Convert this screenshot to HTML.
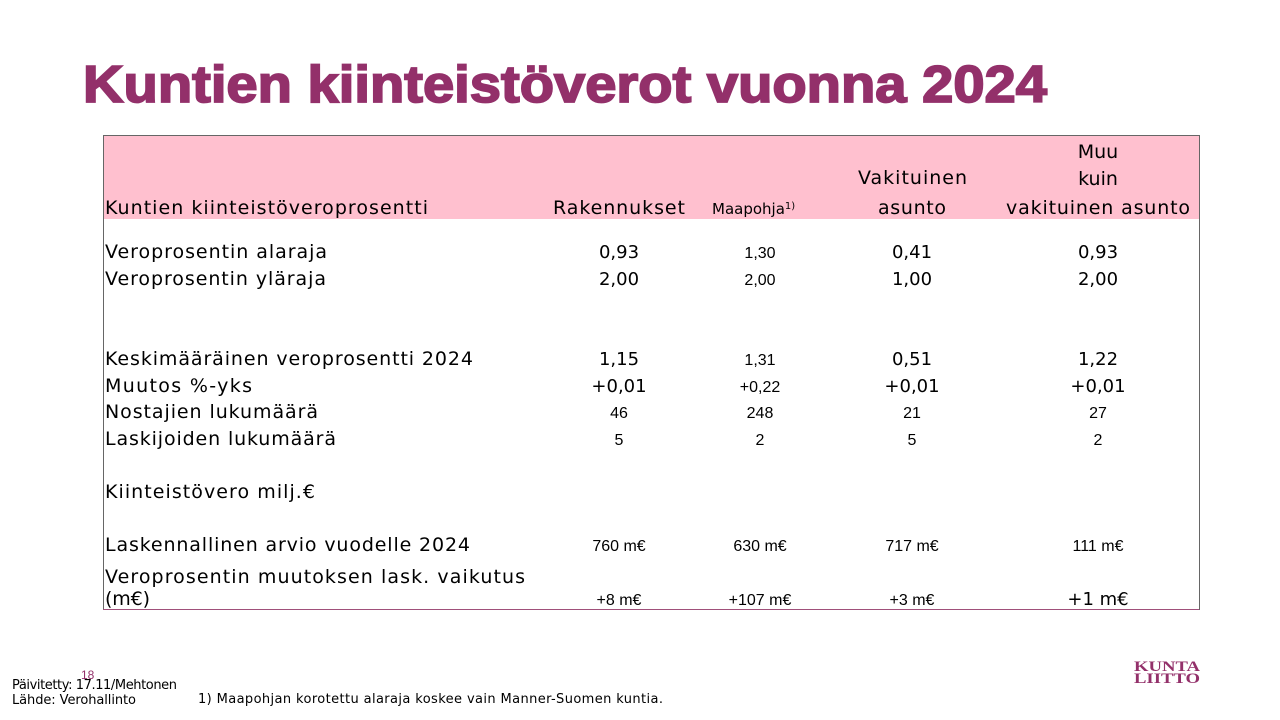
<!DOCTYPE html>
<html><head><meta charset="utf-8"><style>
html,body{margin:0;padding:0;background:#fff;}
svg{display:block;font-family:"DejaVu Sans","Liberation Sans",sans-serif;}
</style></head><body>
<svg width="1280" height="720" viewBox="0 0 1280 720" xmlns="http://www.w3.org/2000/svg">
<text x="83" y="102" font-size="52" font-weight="bold" fill="#93306a" stroke="#93306a" stroke-width="1.8" textLength="964" lengthAdjust="spacingAndGlyphs" font-family="Liberation Sans,sans-serif">Kuntien kiinteistöverot vuonna 2024</text>
<rect x="103" y="136" width="1096" height="83" fill="#ffc0cf"/>
<rect x="103.5" y="135.5" width="1096" height="474" fill="none" stroke="#666" stroke-width="1"/>
<line x1="103" y1="609.5" x2="1199" y2="609.5" stroke="#a0507a" stroke-width="1"/>
<g font-size="19" fill="#000" lengthAdjust="spacingAndGlyphs">
<text x="105" y="214" textLength="323">Kuntien kiinteistöveroprosentti</text>
<text x="553" y="214" textLength="132">Rakennukset</text>
<text x="712" y="214" font-size="15">Maapohja<tspan font-size="10" dy="-5">1)</tspan></text>
<text x="858" y="184" textLength="109">Vakituinen</text>
<text x="878" y="214" textLength="68">asunto</text>
<text x="1098" y="158" text-anchor="middle">Muu</text>
<text x="1098" y="185" text-anchor="middle">kuin</text>
<text x="1006" y="214" textLength="184">vakituinen asunto</text>

<text x="105" y="258" textLength="222">Veroprosentin alaraja</text>
<text x="105" y="285" textLength="221">Veroprosentin yläraja</text>
<text x="105" y="365" textLength="368">Keskimääräinen veroprosentti 2024</text>
<text x="105" y="392" textLength="147">Muutos %-yks</text>
<text x="105" y="418" textLength="213">Nostajien lukumäärä</text>
<text x="105" y="445" textLength="231">Laskijoiden lukumäärä</text>
<text x="105" y="498" textLength="210">Kiinteistövero milj.€</text>
<text x="105" y="551" textLength="365">Laskennallinen arvio vuodelle 2024</text>
<text x="105" y="583" textLength="420">Veroprosentin muutoksen lask. vaikutus</text>
<text x="105" y="605" textLength="45">(m€)</text>
</g>
<g text-anchor="middle" fill="#000">
<g font-size="18">
<text x="619" y="258">0,93</text><text x="912" y="258">0,41</text><text x="1098" y="258">0,93</text>
<text x="619" y="285">2,00</text><text x="912" y="285">1,00</text><text x="1098" y="285">2,00</text>
<text x="619" y="365">1,15</text><text x="912" y="365">0,51</text><text x="1098" y="365">1,22</text>
<text x="619" y="392">+0,01</text><text x="912" y="392">+0,01</text><text x="1098" y="392">+0,01</text>
<text x="1098" y="605">+1 m€</text>
</g>
<g font-size="16" font-family="Liberation Sans,sans-serif">
<text x="760" y="258">1,30</text><text x="760" y="285">2,00</text>
<text x="760" y="365">1,31</text><text x="760" y="392">+0,22</text>
<text x="619" y="418">46</text><text x="760" y="418">248</text><text x="912" y="418">21</text><text x="1098" y="418">27</text>
<text x="619" y="445">5</text><text x="760" y="445">2</text><text x="912" y="445">5</text><text x="1098" y="445">2</text>
<text x="619" y="551">760 m€</text><text x="760" y="551">630 m€</text><text x="912" y="551">717 m€</text><text x="1098" y="551">111 m€</text>
<text x="619" y="605">+8 m€</text><text x="760" y="605">+107 m€</text><text x="912" y="605">+3 m€</text>
</g>
</g>
<text x="81" y="679" font-size="12" fill="#93306a" font-family="Liberation Sans,sans-serif">18</text>
<g font-size="13" fill="#000" lengthAdjust="spacingAndGlyphs">
<text x="12" y="689" textLength="165">Päivitetty:  17.11/Mehtonen</text>
<text x="12" y="704" textLength="124">Lähde: Verohallinto</text>
<text x="198" y="703" textLength="465">1) Maapohjan korotettu alaraja koskee vain Manner-Suomen kuntia.</text>
</g>
<g font-family="Liberation Serif,serif" font-size="15" fill="#93306a" font-weight="bold">
<text x="1134" y="671" textLength="66" lengthAdjust="spacingAndGlyphs">KUNTA</text>
<text x="1134" y="683" textLength="66" lengthAdjust="spacingAndGlyphs">LIITTO</text>
</g>
</svg>
</body></html>
